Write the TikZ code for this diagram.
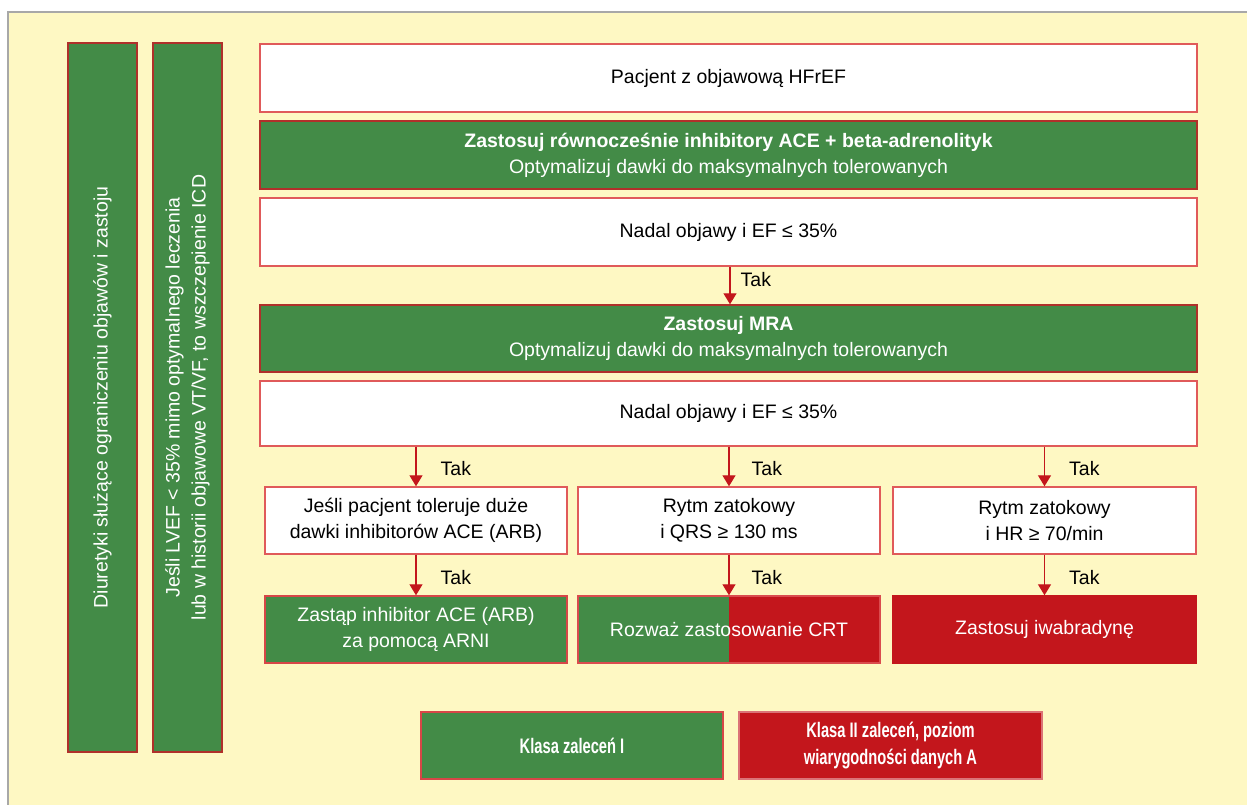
\documentclass[tikz,border=0pt]{standalone}
\usepackage{fontspec}
\setmainfont{Liberation Sans}
\newfontfamily\condfont[FakeStretch=0.7]{Liberation Sans}
\usetikzlibrary{arrows.meta}
\definecolor{bgy}{HTML}{FEF8C3}
\definecolor{gbox}{HTML}{438B47}
\definecolor{rbox}{HTML}{C3161C}
\definecolor{lbord}{HTML}{E05A5A}
\definecolor{dbord}{HTML}{B0302A}
\definecolor{frame}{HTML}{A8A8A8}
\tikzset{
  x=1pt, y=-1pt,
  txt/.style={font=\fontsize{19.5}{26}\selectfont},
  base/.style={rectangle, line width=1.4pt, align=center, txt, inner sep=0pt},
  wbox/.style={base, draw=lbord, fill=white, text=black},
  gbx/.style={base, draw=dbord, fill=gbox, text=white},
  rbx/.style={base, draw=lbord!80!rbox, fill=rbox, text=white},
  vbar/.style={base, draw=dbord, fill=gbox, text=white, minimum width=69pt, minimum height=709pt},
  full/.style={minimum width=937pt},
  third/.style={minimum width=302pt, minimum height=67pt},
  arr/.style={draw=rbox, line width=1.3pt, -{Triangle[length=11pt,width=13pt]}},
  tak/.style={anchor=west, txt, inner sep=0pt},
  leg/.style={minimum width=302pt, minimum height=67pt, font=\condfont\bfseries\fontsize{21}{27}\selectfont}
}
\begin{document}
\begin{tikzpicture}
\useasboundingbox (0,0) rectangle (1247,805);
\fill[bgy] (8,12) rectangle (1247,805);
\draw[frame, line width=1.5pt] (8,805) -- (8,12) -- (1247,12);

\node[vbar] (v1) at (102.5,397.5) {};
\node[rotate=90, text=white, txt, align=center] (v1t) at (v1.center) {Diuretyki służące ograniczeniu objawów i zastoju};
\node[vbar] (v2) at (187.5,397.5) {};
\node[rotate=90, text=white, txt, align=center] (v2t) at (v2.center) {Jeśli LVEF < 35\% mimo optymalnego leczenia\\lub w historii objawowe VT/VF, to wszczepienie ICD};

\node[wbox, full, minimum height=68pt] (pac) at (728.5,78) {Pacjent z objawową HFrEF};
\node[gbx, full, minimum height=68pt] (g1) at (728.5,155) {\textbf{Zastosuj równocześnie inhibitory ACE + beta-adrenolityk}\\Optymalizuj dawki do maksymalnych tolerowanych};
\node[wbox, full, minimum height=68pt] (n1) at (728.5,232) {Nadal objawy i EF ≤ 35\%};
\node[gbx, full, minimum height=67pt] (mra) at (728.5,338.5) {\textbf{Zastosuj MRA}\\Optymalizuj dawki do maksymalnych tolerowanych};
\node[wbox, full, minimum height=65pt] (n2) at (728.5,413.5) {Nadal objawy i EF ≤ 35\%};

\node[wbox, third] (b1) at (416,520.5) {Jeśli pacjent toleruje duże\\dawki inhibitorów ACE (ARB)};
\node[wbox, third] (b2) at (729,520.5) {Rytm zatokowy\\i QRS ≥ 130 ms};
\node[wbox, third, minimum width=303pt] (b3) at (1044.5,520.5) {Rytm zatokowy\\i HR ≥ 70/min};

\node[gbx, third, draw=lbord!70!rbox] (c1) at (416,629.5) {Zastąp inhibitor ACE (ARB)\\za pomocą ARNI};
\node[rbx, third, path picture={\fill[gbox] (path picture bounding box.south west) rectangle (path picture bounding box.north);}] (c2) at (729,629.5) {Rozważ zastosowanie CRT};
\node[rbx, third, minimum width=303pt, draw=rbox] (c3) at (1044.5,629.5) {Zastosuj iwabradynę};

\node[gbx, leg, draw=lbord!70!rbox] (l1) at (572,745.5) {Klasa zaleceń I};
\node[rbx, leg, minimum width=303pt, draw=rbox!60!white] (l2) at (890.5,745.5) {Klasa II zaleceń, poziom\\wiarygodności danych A};

\draw[arr] (n1.south -| 730,0) -- (mra.north -| 730,0) node[tak, pos=0.35, xshift=10pt] (t0) {Tak};
\draw[arr] (n2.south -| b1.north) -- (b1.north) node[tak, pos=0.55, xshift=24pt] (t1) {Tak};
\draw[arr] (n2.south -| b2.north) -- (b2.north) node[tak, pos=0.55, xshift=22pt] (t2) {Tak};
\draw[arr] (n2.south -| b3.north) -- (b3.north) node[tak, pos=0.55, xshift=24pt] (t3) {Tak};
\draw[arr] (b1.south) -- (c1.north) node[tak, pos=0.55, xshift=24pt] (t4) {Tak};
\draw[arr] (b2.south) -- (c2.north) node[tak, pos=0.55, xshift=22pt] (t5) {Tak};
\draw[arr] (b3.south) -- (c3.north) node[tak, pos=0.55, xshift=24pt] (t6) {Tak};
\end{tikzpicture}
\end{document}
